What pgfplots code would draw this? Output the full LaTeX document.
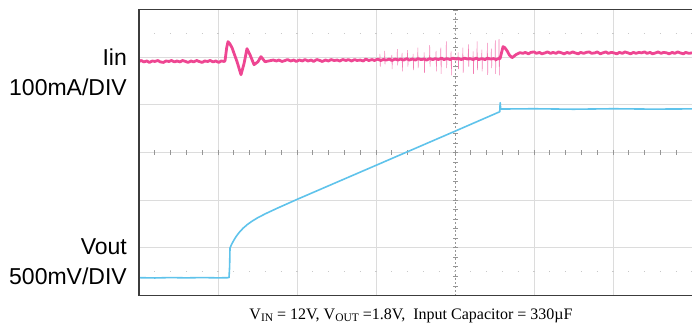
\documentclass[border=0pt]{standalone}
\usepackage{pgfplots}
\pgfplotsset{compat=1.18}
\usepackage{fontspec}
\setmainfont{Liberation Serif}
\newfontfamily\labelfont{Liberation Sans}

\definecolor{iinpink}{RGB}{238,70,146}
\definecolor{voutblue}{RGB}{95,195,235}
\definecolor{gridgray}{RGB}{220,220,220}
\definecolor{tickgray}{RGB}{150,150,150}
\definecolor{framegray}{RGB}{60,60,60}

\begin{document}
\begin{tikzpicture}[x=1bp,y=1bp]
\useasboundingbox (-139,-31.5) rectangle (553,295.5);
\begin{axis}[
  at={(0,0)}, anchor=south west,
  scale only axis, width=553bp, height=286bp,
  xmin=0, xmax=7, ymin=0, ymax=6,
  xtick={1,2,3,5,6}, ytick={1,2,4,5},
  xticklabels={}, yticklabels={},
  major tick length=0pt,
  grid=major, major grid style={gridgray, line width=0.8bp},
  axis line style={draw=none},
  clip=true,
]
% graticule: centre lines with 0.2-division ticks, dotted marker rows
\draw[gridgray, line width=0.8bp] (axis cs:0,3) -- (axis cs:7,3);
\draw[tickgray, line width=0.8bp, dash pattern=on 2bp off 2bp] (axis cs:4,0) -- (axis cs:4,6);
\draw[tickgray, line width=5bp, dash pattern=on 0.9bp off 14.9bp, dash phase=0.45bp] (axis cs:0,3) -- (axis cs:7,3);
\draw[tickgray, line width=5bp, dash pattern=on 0.9bp off 8.633bp, dash phase=0.45bp] (axis cs:4,0) -- (axis cs:4,6);
\draw[gridgray!80!gray, line width=1.3bp, dash pattern=on 1.3bp off 14.5bp, dash phase=0.65bp] (axis cs:0,0.5) -- (axis cs:7,0.5);
\draw[gridgray!80!gray, line width=1.3bp, dash pattern=on 1.3bp off 14.5bp, dash phase=0.65bp] (axis cs:0,5.5) -- (axis cs:7,5.5);

% Iin, switching noise spikes
\addplot[iinpink!70, line width=0.5bp] coordinates {
(3.046,4.95) (3.050,5.07) (3.054,4.80) (3.058,4.95)
(3.106,4.95) (3.110,5.13) (3.114,4.85) (3.118,4.95)
(3.196,4.95) (3.200,5.05) (3.204,4.75) (3.208,4.95)
(3.266,4.95) (3.270,5.17) (3.274,4.83) (3.278,4.95)
(3.326,4.95) (3.330,5.09) (3.334,4.70) (3.338,4.95)
(3.396,4.95) (3.400,5.15) (3.404,4.80) (3.408,4.95)
(3.466,4.95) (3.470,5.07) (3.474,4.73) (3.478,4.95)
(3.526,4.95) (3.530,5.20) (3.534,4.77) (3.538,4.95)
(3.606,4.95) (3.610,5.10) (3.614,4.67) (3.618,4.95)
(3.676,4.95) (3.680,5.25) (3.684,4.80) (3.688,4.95)
(3.756,4.95) (3.760,5.13) (3.764,4.70) (3.768,4.95)
(3.816,4.95) (3.820,5.20) (3.824,4.65) (3.828,4.95)
(3.886,4.95) (3.890,5.33) (3.894,4.77) (3.898,4.95)
(3.946,4.95) (3.950,5.12) (3.954,4.62) (3.958,4.95)
(4.036,4.95) (4.040,5.10) (4.044,4.75) (4.048,4.95)
(4.096,4.95) (4.100,5.20) (4.104,4.67) (4.108,4.95)
(4.166,4.95) (4.170,5.27) (4.174,4.80) (4.178,4.95)
(4.226,4.95) (4.230,5.12) (4.234,4.65) (4.238,4.95)
(4.276,4.95) (4.280,5.33) (4.284,4.73) (4.288,4.95)
(4.336,4.95) (4.340,5.16) (4.344,4.70) (4.348,4.95)
(4.406,4.95) (4.410,5.30) (4.414,4.63) (4.418,4.95)
(4.456,4.95) (4.460,5.18) (4.464,4.77) (4.468,4.95)
(4.506,4.95) (4.510,5.35) (4.514,4.65) (4.518,4.95)
(4.553,4.95) (4.557,5.38) (4.561,4.62) (4.565,4.95)
};

% Iin trace
\addplot[iinpink, line width=2.8bp, line join=round] coordinates {
(0,4.91) (0.03,4.93) (0.06,4.90) (0.10,4.92) (0.13,4.89) (0.17,4.92) (0.20,4.91)
(0.24,4.93) (0.27,4.90) (0.31,4.89) (0.34,4.92) (0.38,4.91) (0.41,4.93) (0.45,4.90)
(0.48,4.92) (0.52,4.90) (0.55,4.93) (0.59,4.91) (0.62,4.89) (0.66,4.92) (0.69,4.90)
(0.73,4.93) (0.76,4.91) (0.80,4.89) (0.83,4.92) (0.87,4.91) (0.90,4.93) (0.94,4.90)
(0.97,4.92) (1.01,4.89) (1.04,4.92) (1.08,4.91)
(1.089,4.926) (1.110,5.20) (1.127,5.326) (1.150,5.28) (1.177,5.200) (1.241,4.905)
(1.291,4.632) (1.329,4.863) (1.367,5.179) (1.405,5.053) (1.456,4.842) (1.506,4.905)
(1.544,5.011) (1.595,4.905) (1.658,4.926)
(1.70,4.94) (1.74,4.92) (1.77,4.94) (1.81,4.91) (1.85,4.93) (1.88,4.95) (1.92,4.92)
(1.96,4.94) (1.99,4.91) (2.03,4.94) (2.07,4.92) (2.10,4.95) (2.14,4.92) (2.18,4.94)
(2.21,4.91) (2.25,4.95) (2.29,4.93) (2.32,4.91) (2.36,4.94) (2.40,4.92) (2.43,4.95)
(2.47,4.93) (2.51,4.94) (2.54,4.92) (2.58,4.95) (2.62,4.93) (2.65,4.95) (2.69,4.92)
(2.73,4.95) (2.76,4.93) (2.80,4.94) (2.84,4.92) (2.87,4.96) (2.91,4.93) (2.95,4.95)
(2.98,4.93) (3.02,4.96) (3.06,4.93) (3.09,4.95) (3.13,4.94) (3.17,4.96) (3.20,4.93)
(3.24,4.96) (3.28,4.94) (3.31,4.96) (3.35,4.94) (3.39,4.97) (3.42,4.94) (3.46,4.96)
(3.50,4.94) (3.53,4.97) (3.57,4.95) (3.61,4.96) (3.64,4.94) (3.68,4.97) (3.72,4.95)
(3.75,4.97) (3.79,4.95) (3.83,4.98) (3.86,4.95) (3.90,4.97) (3.94,4.95) (3.97,4.98)
(4.01,4.96) (4.05,4.97) (4.08,4.95) (4.12,4.98) (4.16,4.96) (4.19,4.97) (4.23,4.95)
(4.27,4.98) (4.30,4.95) (4.34,4.97) (4.38,4.95) (4.41,4.98) (4.45,4.96) (4.49,4.97)
(4.52,4.95) (4.55,4.97)
(4.570,4.968) (4.590,5.10) (4.608,5.221) (4.630,5.20) (4.658,5.137) (4.690,5.04)
(4.722,4.989) (4.772,5.053) (4.823,5.095)
(4.86,5.08) (4.89,5.10) (4.93,5.07) (4.96,5.10) (5.00,5.11) (5.03,5.08) (5.07,5.10)
(5.10,5.07) (5.14,5.09) (5.17,5.11) (5.21,5.08) (5.24,5.10) (5.28,5.08) (5.31,5.11)
(5.35,5.09) (5.38,5.07) (5.42,5.10) (5.45,5.08) (5.49,5.11) (5.52,5.09) (5.56,5.07)
(5.59,5.10) (5.63,5.08) (5.66,5.10) (5.70,5.11) (5.73,5.08) (5.77,5.09) (5.80,5.11)
(5.84,5.07) (5.87,5.09) (5.91,5.11) (5.94,5.08) (5.98,5.10) (6.01,5.09) (6.05,5.07)
(6.08,5.10) (6.12,5.08) (6.15,5.11) (6.19,5.09) (6.22,5.07) (6.26,5.10) (6.29,5.08)
(6.33,5.10) (6.36,5.09) (6.40,5.11) (6.43,5.08) (6.47,5.10) (6.50,5.07) (6.54,5.09)
(6.57,5.11) (6.61,5.08) (6.64,5.10) (6.68,5.09) (6.71,5.07) (6.75,5.10) (6.78,5.08)
(6.82,5.11) (6.85,5.09) (6.89,5.07) (6.92,5.10) (6.96,5.08) (7.00,5.09)
};

% Vout trace
\addplot[voutblue, line width=1.6bp, line join=round] coordinates {
(0,0.374) (0.2,0.368) (0.4,0.376) (0.6,0.370) (0.8,0.376) (1.0,0.370) (1.139,0.374)
(1.147,0.60) (1.152,0.998) (1.165,1.046) (1.18,1.097) (1.20,1.158) (1.225,1.226)
(1.25,1.284) (1.28,1.346) (1.32,1.415) (1.37,1.487) (1.43,1.558) (1.50,1.629)
(1.60,1.715) (1.75,1.831) (2.0,2.016) (2.544,2.405) (3.0,2.731)
(3.5,3.089) (4.0,3.447) (4.566,3.855) (4.572,4.044) (4.578,3.912) (5.0,3.918)
(5.5,3.908) (6.0,3.918) (6.5,3.910) (7.0,3.915)
};
\end{axis}

% frame (open on the right)
\draw[framegray, line width=1.5bp] (553,286) -- (0,286) -- (0,0) -- (553,0);

% channel labels
\node[anchor=base east, inner sep=0pt, font=\labelfont\fontsize{23bp}{28bp}\selectfont] at (-12,230.5) {Iin};
\node[anchor=base east, inner sep=0pt, font=\labelfont\fontsize{23bp}{28bp}\selectfont] at (-12,200.5) {100mA/DIV};
\node[anchor=base east, inner sep=0pt, font=\labelfont\fontsize{23bp}{28bp}\selectfont] at (-12,41.2) {Vout};
\node[anchor=base east, inner sep=0pt, font=\labelfont\fontsize{23bp}{28bp}\selectfont] at (-12,11.2) {500mV/DIV};

% test conditions
\node[anchor=base, inner sep=0pt, font=\fontsize{16bp}{19bp}\selectfont] at (272,-23.5)
  {V\raisebox{-2.6bp}{\fontsize{11.5bp}{12bp}\selectfont IN} = 12V, V\raisebox{-2.6bp}{\fontsize{11.5bp}{12bp}\selectfont OUT} =1.8V,\ \ Input Capacitor = 330µF};
\end{tikzpicture}
\end{document}
